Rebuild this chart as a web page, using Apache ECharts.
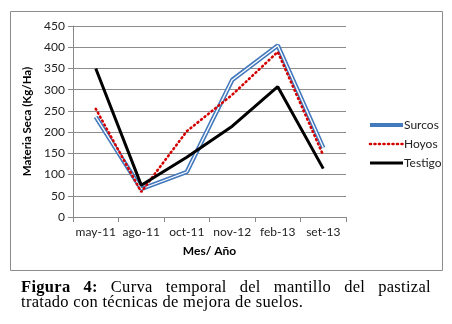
<!DOCTYPE html>
<html>
<head>
<meta charset="utf-8">
<script src="https://cdn.jsdelivr.net/npm/echarts@6/dist/echarts.min.js"></script>
<style>
  body { margin: 0; background: #fff; }
  #chart { position: absolute; left: 0; top: 0; width: 452px; height: 324px; }
  #caption {
    position: absolute; left: 21px; top: 280px; width: 410px;
    font-family: "Liberation Serif", "DejaVu Serif", serif;
    font-size: 16.5px; line-height: 14.5px; color: #000;
    letter-spacing: 0.3px;
  }
  #caption .l1 { text-align: justify; text-align-last: justify; }
</style>
</head>
<body>
<div id="chart"></div>
<div id="caption">
  <div class="l1"><b>Figura 4:</b> Curva temporal del mantillo del pastizal</div>
  <div>tratado con técnicas de mejora de suelos.</div>
</div>
<script>
// datos
const categorias = ['may-11', 'ago-11', 'oct-11', 'nov-12', 'feb-13', 'set-13']
const surcos = [236, 66, 106, 323, 404, 163]
const hoyos = [255, 59, 202, 288, 389, 145]
const testigo = [350, 75, 141, 214, 307, 114]
const yTicks = [0, 50, 100, 150, 200, 250, 300, 350, 400, 450]

const myChart = echarts.init(document.getElementById('chart'))
const fuente = 'Lato, "Open Sans", sans-serif'

const option = {
  animation: false,
  textStyle: { fontFamily: fuente },
  graphic: [
    {
      type: 'rect',
      shape: { x: 10.5, y: 11.5, width: 432, height: 259 },
      style: { fill: 'none', stroke: '#8c8c8c', lineWidth: 1 },
      silent: true
    }
  ],
  grid: {
    left: 73,
    right: 106,
    top: 26,
    bottom: 107
  },
  legend: {
    orient: 'vertical',
    left: 363,
    top: 114,
    itemWidth: 33,
    itemHeight: 14,
    itemGap: 7,
    itemStyle: { opacity: 0 },
    textStyle: { fontSize: 12, color: '#222', fontFamily: fuente, padding: [0, 0, 0, -4] },
    data: [
      { name: 'Surcos', lineStyle: { color: '#4379bd', width: 4 } },
      { name: 'Hoyos', lineStyle: { color: '#d40000', width: 2.6, type: [1, 3.5], cap: 'round' } },
      { name: 'Testigo', lineStyle: { color: '#000', width: 3 } }
    ]
  },
  xAxis: {
    type: 'category',
    data: categorias,
    boundaryGap: true,
    name: 'Mes/ Año',
    nameLocation: 'middle',
    nameGap: 28,
    nameTextStyle: { fontWeight: 'bold', fontSize: 12, color: '#000', fontFamily: fuente },
    axisLine: { lineStyle: { color: '#888', width: 1 } },
    axisTick: { show: true, length: 5, interval: 0, lineStyle: { color: '#888' } },
    axisLabel: { fontSize: 12, color: '#222', margin: 9, interval: 0 }
  },
  yAxis: {
    type: 'value',
    min: yTicks[0],
    max: yTicks[yTicks.length - 1],
    interval: 50,
    name: 'Materia Seca (Kg/Ha)',
    nameLocation: 'middle',
    nameRotate: 90,
    nameGap: 33,
    nameTextStyle: { fontWeight: 'bold', fontSize: 11.5, color: '#000', fontFamily: fuente },
    axisLine: { show: true, lineStyle: { color: '#888', width: 1 } },
    axisTick: { show: true, length: 5, lineStyle: { color: '#888' } },
    axisLabel: { fontSize: 12, color: '#222', margin: 8 },
    splitLine: { show: true, lineStyle: { color: '#8c8c8c', width: 1 } }
  },
  series: [
    {
      name: 'Surcos',
      type: 'line',
      data: surcos,
      symbol: 'none',
      itemStyle: { color: '#4379bd' },
      lineStyle: { color: '#4379bd', width: 4.5 },
      z: 2
    },
    {
      // raya blanca interior para la línea doble
      name: 'Surcos-interior',
      type: 'line',
      data: surcos,
      symbol: 'none',
      itemStyle: { color: '#ffffff' },
      lineStyle: { color: '#ffffff', width: 1.3 },
      z: 3
    },
    {
      name: 'Hoyos',
      type: 'line',
      data: hoyos,
      symbol: 'none',
      itemStyle: { color: '#d40000' },
      lineStyle: { color: '#d40000', width: 2.6, type: [1, 3.5], cap: 'round' },
      z: 4
    },
    {
      name: 'Testigo',
      type: 'line',
      data: testigo,
      symbol: 'none',
      itemStyle: { color: '#000' },
      lineStyle: { color: '#000', width: 3 },
      z: 5
    }
  ]
}

myChart.setOption(option)
window.addEventListener('resize', () => {
  myChart.resize()
})
</script>
</body>
</html>
